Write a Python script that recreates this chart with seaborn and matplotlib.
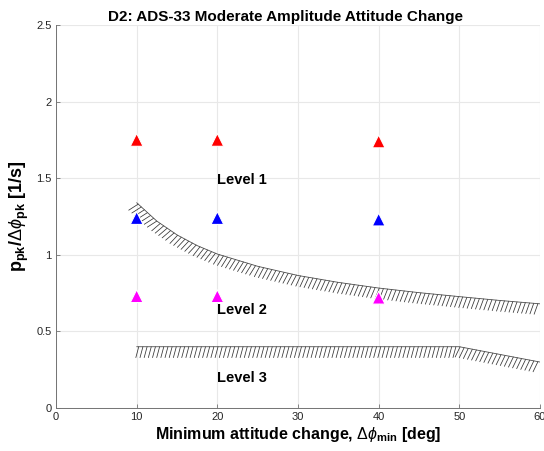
import numpy as np
import pandas as pd
import matplotlib
matplotlib.use("Agg")
import matplotlib.pyplot as plt
import matplotlib.patheffects as pe
import seaborn as sns

# ---- data ----
pts_x = [10, 20, 40, 10, 20, 40, 10, 20, 40]
pts_y = [1.75, 1.75, 1.74, 1.24, 1.24, 1.23, 0.73, 0.73, 0.72]
pts_grp = ["r", "r", "r", "b", "b", "b", "m", "m", "m"]

b12_x = [10, 12.5, 15, 17.5, 20, 25, 30, 35, 40, 45, 50, 55, 60]
b12_y = [1.34, 1.22, 1.13, 1.06, 1.005, 0.925, 0.865, 0.82, 0.783, 0.753, 0.727, 0.702, 0.68]

b23_x = [10, 50, 60]
b23_y = [0.40, 0.40, 0.30]

level_labels = ["Level 1", "Level 2", "Level 3"]
level_x = [20, 20, 20]
level_y = [1.49, 0.64, 0.195]

xticks = [0, 10, 20, 30, 40, 50, 60]
yticks = [0, 0.5, 1, 1.5, 2, 2.5]
ytick_labels = ["0", "0.5", "1", "1.5", "2", "2.5"]

# ---- style ----
sns.set_theme(style="white")
plt.rcParams["font.family"] = ["Liberation Sans", "DejaVu Sans"]
plt.rcParams["mathtext.fontset"] = "custom"
plt.rcParams["mathtext.rm"] = "Liberation Sans"
plt.rcParams["mathtext.bf"] = "Liberation Sans:bold"
plt.rcParams["mathtext.it"] = "Liberation Sans:italic"
plt.rcParams["text.color"] = "black"
plt.rcParams["axes.labelcolor"] = "black"

fig = plt.figure(figsize=(5.44, 4.51), dpi=100)
ax = fig.add_axes([56/544, 1-408/451, 484/544, 383/451])

df = pd.DataFrame({"x": pts_x, "y": pts_y, "g": pts_grp})
palette = {"r": (1, 0, 0), "b": (0, 0, 1), "m": (1, 0, 1)}
sns.scatterplot(data=df, x="x", y="y", hue="g", palette=palette, marker="^",
                s=85, linewidth=0.8, ax=ax, legend=False, zorder=3)

ticked = [pe.withTickedStroke(angle=-105, spacing=3.0, length=2.7,
                              linewidth=0.55, foreground="0.2")]
sns.lineplot(x=b12_x, y=b12_y, ax=ax, color="0.3", linewidth=0.6,
             path_effects=ticked, sort=False, estimator=None)
sns.lineplot(x=b23_x, y=b23_y, ax=ax, color="0.3", linewidth=0.6,
             path_effects=ticked, sort=False, estimator=None)

for t, x, y in zip(level_labels, level_x, level_y):
    ax.text(x, y, t, fontsize=10.5, fontweight="bold", ha="left", va="center",
            color="black")

ax.set_xlim(0, 60)
ax.set_ylim(0, 2.5)
ax.set_xticks(xticks)
ax.set_yticks(yticks)
ax.set_yticklabels(ytick_labels)
ax.grid(True, color="0.91", linewidth=0.8)
ax.set_axisbelow(True)
for s in ["top", "right"]:
    ax.spines[s].set_visible(False)
for s in ["left", "bottom"]:
    ax.spines[s].set_color("0.45")
    ax.spines[s].set_linewidth(0.7)
ax.tick_params(axis="both", direction="in", length=3, width=0.6, color="0.45",
               labelsize=8, labelcolor="0.15", pad=3, bottom=True, left=True)

ax.set_title("D2: ADS-33 Moderate Amplitude Attitude Change",
             fontsize=11, fontweight="bold", pad=3, x=0.475, color="black")
ax.set_xlabel(r"Minimum attitude change, $\Delta\phi_{\mathbf{min}}$ [deg]",
              fontsize=11.5, fontweight="bold", labelpad=2)
ax.set_ylabel(r"$\mathbf{p_{pk}}$/$\Delta\phi_{\mathbf{pk}}$ [1/s]",
              fontsize=13, fontweight="bold", labelpad=4)

fig.savefig("out.png", dpi=100)
